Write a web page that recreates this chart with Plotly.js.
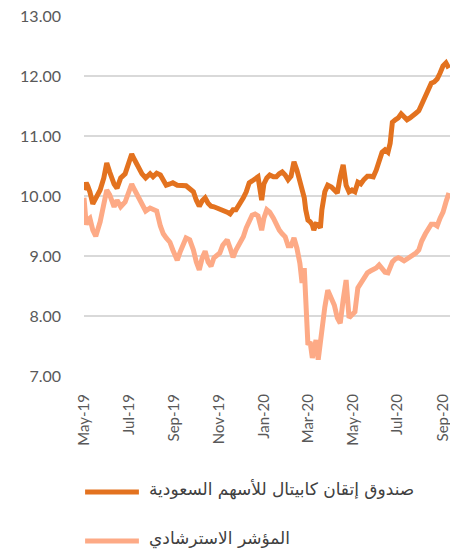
<!DOCTYPE html>
<html>
<head>
<meta charset="utf-8">
<script src="https://cdn.plot.ly/plotly-3.0.1.min.js"></script>
<style>html,body{margin:0;padding:0;background:#fff;}#chart{width:450px;height:552px;}</style>
</head>
<body>
<div id="chart"></div>
<script>
const dates = [
"2019-05-01","2019-05-04","2019-05-06","2019-05-09","2019-05-13","2019-05-17","2019-05-23","2019-05-28",
"2019-06-01","2019-06-05","2019-06-11","2019-06-15","2019-06-20","2019-06-26","2019-06-30",
"2019-07-05","2019-07-09","2019-07-14","2019-07-19","2019-07-24","2019-07-30",
"2019-08-03","2019-08-08","2019-08-13","2019-08-17","2019-08-21","2019-08-26","2019-08-30",
"2019-09-05","2019-09-09","2019-09-13","2019-09-17","2019-09-22","2019-09-27",
"2019-10-01","2019-10-05","2019-10-09","2019-10-13","2019-10-17","2019-10-21","2019-10-25","2019-10-29",
"2019-11-02","2019-11-06","2019-11-12","2019-11-16","2019-11-20","2019-11-24","2019-11-30",
"2019-12-04","2019-12-08","2019-12-12","2019-12-16","2019-12-20","2019-12-24","2019-12-29",
"2020-01-01","2020-01-05","2020-01-09","2020-01-14","2020-01-18","2020-01-22","2020-01-26","2020-01-30",
"2020-02-03","2020-02-07","2020-02-11","2020-02-15","2020-02-19","2020-02-22","2020-02-25","2020-02-27",
"2020-03-01","2020-03-04","2020-03-07","2020-03-09","2020-03-12","2020-03-15","2020-03-18","2020-03-20","2020-03-24","2020-03-28",
"2020-04-02","2020-04-06","2020-04-10","2020-04-14","2020-04-18","2020-04-22","2020-04-26","2020-04-30",
"2020-05-04","2020-05-08","2020-05-12","2020-05-16","2020-05-21","2020-05-25","2020-05-29",
"2020-06-02","2020-06-06","2020-06-10","2020-06-14","2020-06-18","2020-06-21","2020-06-24","2020-06-28",
"2020-07-02","2020-07-06","2020-07-10","2020-07-14","2020-07-18","2020-07-22","2020-07-26","2020-07-30",
"2020-08-03","2020-08-08","2020-08-12","2020-08-16","2020-08-20","2020-08-24","2020-08-28",
"2020-09-01","2020-09-05","2020-09-09"
];

const fundValues = [
10.10,10.22,10.17,10.07,9.87,9.98,10.10,10.30,
10.55,10.40,10.20,10.13,10.30,10.37,10.53,
10.70,10.60,10.48,10.37,10.30,10.37,
10.32,10.38,10.35,10.27,10.18,10.20,10.22,
10.18,10.18,10.18,10.17,10.12,10.07,
9.93,9.83,9.92,9.97,9.88,9.83,9.82,9.80,
9.80,9.77,9.73,9.70,9.77,9.77,9.88,
9.97,10.07,10.22,10.25,10.28,10.32,9.93,
10.20,10.30,10.35,10.32,10.32,10.37,10.40,10.35,
10.27,10.33,10.57,10.43,10.23,10.10,9.97,9.77,
9.60,9.57,9.52,9.43,9.53,9.52,9.47,9.77,10.07,10.18,
10.15,10.10,10.05,10.32,10.52,10.18,10.07,10.10,
10.07,10.23,10.20,10.27,10.33,10.33,10.32,
10.43,10.60,10.73,10.77,10.73,10.88,11.23,11.27,
11.30,11.37,11.33,11.27,11.30,11.33,11.38,11.42,
11.53,11.65,11.77,11.88,11.90,11.95,12.05,
12.17,12.22,12.13
];

const benchmarkValues = [
9.97,9.52,9.60,9.63,9.43,9.33,9.57,9.85,
10.10,10.02,9.82,9.93,9.82,9.90,10.02,
10.20,10.10,9.98,9.85,9.75,9.80,
9.77,9.75,9.50,9.37,9.30,9.23,9.10,
8.93,9.07,9.20,9.30,9.27,9.10,
8.90,8.77,8.97,9.08,8.90,8.83,8.97,9.02,
9.05,9.18,9.27,9.13,8.98,9.10,9.23,
9.32,9.47,9.60,9.68,9.70,9.67,9.43,
9.63,9.77,9.73,9.63,9.52,9.43,9.37,9.32,
9.17,9.17,9.30,9.13,8.88,8.55,8.80,8.27,
7.52,7.57,7.30,7.43,7.60,7.27,7.60,7.72,8.15,8.43,
8.30,8.18,7.97,7.88,8.27,8.60,7.97,8.02,
8.07,8.47,8.55,8.60,8.72,8.75,8.77,
8.80,8.85,8.80,8.73,8.72,8.80,8.90,8.95,
8.97,8.95,8.92,8.95,8.98,9.02,9.05,9.10,
9.25,9.37,9.45,9.53,9.53,9.50,9.63,
9.73,9.90,10.05
];

const seriesNames = ["صندوق إتقان كابيتال للأسهم السعودية", "المؤشر الاسترشادي"];
const seriesColors = ["#E3721F", "#FDAA86"];
const yTickVals = [7, 8, 9, 10, 11, 12, 13];
const yTickText = ["7.00", "8.00", "9.00", "10.00", "11.00", "12.00", "13.00"];

const traces = [
  {x: dates, y: fundValues, name: seriesNames[0], type: "scatter", mode: "lines",
   line: {color: seriesColors[0], width: 5}},
  {x: dates, y: benchmarkValues, name: seriesNames[1], type: "scatter", mode: "lines",
   line: {color: seriesColors[1], width: 5}}
];

// custom legend (paper coordinates, below the plot)
const legendRows = [-0.322, -0.458];
const legendShapes = seriesNames.map((n, i) => ({
  type: "line", xref: "paper", yref: "paper",
  x0: 0.003, x1: 0.150, y0: legendRows[i], y1: legendRows[i],
  line: {color: seriesColors[i], width: 5}
}));
const legendLabels = seriesNames.map((n, i) => ({
  text: n, xref: "paper", yref: "paper", x: 0.172, y: legendRows[i] + 0.008,
  xanchor: "left", yanchor: "middle", showarrow: false,
  font: {family: "'DejaVu Sans', 'Noto Sans', sans-serif", size: 17, color: "#404040"}
}));

const layout = {
  width: 450, height: 552,
  margin: {l: 84, r: 0, t: 16, b: 176},
  paper_bgcolor: "#ffffff", plot_bgcolor: "#ffffff",
  font: {family: "Lato, 'Open Sans', sans-serif", color: "#595959"},
  showlegend: false,
  shapes: legendShapes,
  annotations: legendLabels,
  xaxis: {
    type: "date",
    range: ["2019-05-01", "2020-09-10 12:00"],
    tick0: "2019-05-01", dtick: "M2",
    tickformat: "%b-%y", tickangle: -90,
    showgrid: false, zeroline: false, showline: false,
    ticks: "", ticklabelstandoff: 14, ticklabeloverflow: "allow",
    tickfont: {size: 15, color: "#595959"}
  },
  yaxis: {
    range: [7, 13],
    tickvals: yTickVals, ticktext: yTickText,
    showgrid: true, gridcolor: "#D9D9D9", gridwidth: 1.5,
    zeroline: false, showline: false, ticks: "",
    ticklabelstandoff: 22,
    tickfont: {size: 16, color: "#595959"}
  }
};

Plotly.newPlot("chart", traces, layout, {displayModeBar: false, staticPlot: true});
</script>
</body>
</html>
